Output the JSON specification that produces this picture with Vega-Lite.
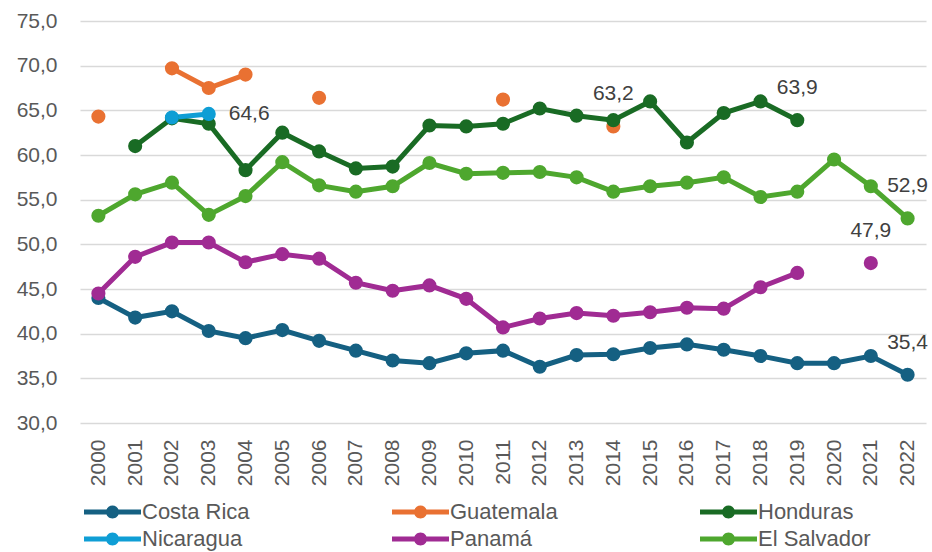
{
  "$schema": "https://vega.github.io/schema/vega-lite/v6.json",
  "width": 846,
  "height": 402,
  "autosize": {"type": "none"},
  "padding": {"left": 80, "top": 21, "right": 6, "bottom": 129},
  "config": {
    "locale": {"number": {"decimal": ",", "thousands": ".", "grouping": [3], "currency": ["", " €"]}},
    "view": {"stroke": null},
    "font": "Liberation Sans"
  },
  "data": {
    "values": [
      {"year": 2000, "country": "Costa Rica", "value": 44.0},
      {"year": 2001, "country": "Costa Rica", "value": 41.8},
      {"year": 2002, "country": "Costa Rica", "value": 42.5},
      {"year": 2003, "country": "Costa Rica", "value": 40.3},
      {"year": 2004, "country": "Costa Rica", "value": 39.5},
      {"year": 2005, "country": "Costa Rica", "value": 40.4},
      {"year": 2006, "country": "Costa Rica", "value": 39.2},
      {"year": 2007, "country": "Costa Rica", "value": 38.1},
      {"year": 2008, "country": "Costa Rica", "value": 37.0},
      {"year": 2009, "country": "Costa Rica", "value": 36.7},
      {"year": 2010, "country": "Costa Rica", "value": 37.8},
      {"year": 2011, "country": "Costa Rica", "value": 38.1},
      {"year": 2012, "country": "Costa Rica", "value": 36.3},
      {"year": 2013, "country": "Costa Rica", "value": 37.6},
      {"year": 2014, "country": "Costa Rica", "value": 37.7},
      {"year": 2015, "country": "Costa Rica", "value": 38.4},
      {"year": 2016, "country": "Costa Rica", "value": 38.8},
      {"year": 2017, "country": "Costa Rica", "value": 38.2},
      {"year": 2018, "country": "Costa Rica", "value": 37.5},
      {"year": 2019, "country": "Costa Rica", "value": 36.7},
      {"year": 2020, "country": "Costa Rica", "value": 36.7},
      {"year": 2021, "country": "Costa Rica", "value": 37.5},
      {"year": 2022, "country": "Costa Rica", "value": 35.4, "label": true},
      {"year": 2000, "country": "Guatemala", "value": 64.3},
      {"year": 2001, "country": "Guatemala", "value": null},
      {"year": 2002, "country": "Guatemala", "value": 69.7},
      {"year": 2003, "country": "Guatemala", "value": 67.5},
      {"year": 2004, "country": "Guatemala", "value": 69.0},
      {"year": 2005, "country": "Guatemala", "value": null},
      {"year": 2006, "country": "Guatemala", "value": 66.4},
      {"year": 2007, "country": "Guatemala", "value": null},
      {"year": 2011, "country": "Guatemala", "value": 66.2},
      {"year": 2012, "country": "Guatemala", "value": null},
      {"year": 2014, "country": "Guatemala", "value": 63.2, "label": true},
      {"year": 2001, "country": "Honduras", "value": 61.0},
      {"year": 2002, "country": "Honduras", "value": 64.1},
      {"year": 2003, "country": "Honduras", "value": 63.5},
      {"year": 2004, "country": "Honduras", "value": 58.3},
      {"year": 2005, "country": "Honduras", "value": 62.5},
      {"year": 2006, "country": "Honduras", "value": 60.4},
      {"year": 2007, "country": "Honduras", "value": 58.5},
      {"year": 2008, "country": "Honduras", "value": 58.7},
      {"year": 2009, "country": "Honduras", "value": 63.3},
      {"year": 2010, "country": "Honduras", "value": 63.2},
      {"year": 2011, "country": "Honduras", "value": 63.5},
      {"year": 2012, "country": "Honduras", "value": 65.2},
      {"year": 2013, "country": "Honduras", "value": 64.4},
      {"year": 2014, "country": "Honduras", "value": 63.9},
      {"year": 2015, "country": "Honduras", "value": 66.0},
      {"year": 2016, "country": "Honduras", "value": 61.4},
      {"year": 2017, "country": "Honduras", "value": 64.7},
      {"year": 2018, "country": "Honduras", "value": 66.0},
      {"year": 2019, "country": "Honduras", "value": 63.9, "label": true},
      {"year": 2002, "country": "Nicaragua", "value": 64.2},
      {"year": 2003, "country": "Nicaragua", "value": 64.6, "label": true},
      {"year": 2000, "country": "Panamá", "value": 44.5},
      {"year": 2001, "country": "Panamá", "value": 48.6},
      {"year": 2002, "country": "Panamá", "value": 50.2},
      {"year": 2003, "country": "Panamá", "value": 50.2},
      {"year": 2004, "country": "Panamá", "value": 48.0},
      {"year": 2005, "country": "Panamá", "value": 48.9},
      {"year": 2006, "country": "Panamá", "value": 48.4},
      {"year": 2007, "country": "Panamá", "value": 45.7},
      {"year": 2008, "country": "Panamá", "value": 44.8},
      {"year": 2009, "country": "Panamá", "value": 45.4},
      {"year": 2010, "country": "Panamá", "value": 43.9},
      {"year": 2011, "country": "Panamá", "value": 40.7},
      {"year": 2012, "country": "Panamá", "value": 41.7},
      {"year": 2013, "country": "Panamá", "value": 42.3},
      {"year": 2014, "country": "Panamá", "value": 42.0},
      {"year": 2015, "country": "Panamá", "value": 42.4},
      {"year": 2016, "country": "Panamá", "value": 42.9},
      {"year": 2017, "country": "Panamá", "value": 42.8},
      {"year": 2018, "country": "Panamá", "value": 45.2},
      {"year": 2019, "country": "Panamá", "value": 46.8},
      {"year": 2020, "country": "Panamá", "value": null},
      {"year": 2021, "country": "Panamá", "value": 47.9, "label": true},
      {"year": 2000, "country": "El Salvador", "value": 53.2},
      {"year": 2001, "country": "El Salvador", "value": 55.6},
      {"year": 2002, "country": "El Salvador", "value": 56.9},
      {"year": 2003, "country": "El Salvador", "value": 53.3},
      {"year": 2004, "country": "El Salvador", "value": 55.4},
      {"year": 2005, "country": "El Salvador", "value": 59.2},
      {"year": 2006, "country": "El Salvador", "value": 56.6},
      {"year": 2007, "country": "El Salvador", "value": 55.9},
      {"year": 2008, "country": "El Salvador", "value": 56.5},
      {"year": 2009, "country": "El Salvador", "value": 59.1},
      {"year": 2010, "country": "El Salvador", "value": 57.9},
      {"year": 2011, "country": "El Salvador", "value": 58.0},
      {"year": 2012, "country": "El Salvador", "value": 58.1},
      {"year": 2013, "country": "El Salvador", "value": 57.5},
      {"year": 2014, "country": "El Salvador", "value": 55.9},
      {"year": 2015, "country": "El Salvador", "value": 56.5},
      {"year": 2016, "country": "El Salvador", "value": 56.9},
      {"year": 2017, "country": "El Salvador", "value": 57.5},
      {"year": 2018, "country": "El Salvador", "value": 55.3},
      {"year": 2019, "country": "El Salvador", "value": 55.9},
      {"year": 2020, "country": "El Salvador", "value": 59.5},
      {"year": 2021, "country": "El Salvador", "value": 56.5},
      {"year": 2022, "country": "El Salvador", "value": 52.9, "label": true}
    ]
  },
  "encoding": {
    "x": {
      "field": "year",
      "type": "ordinal",
      "axis": {
        "title": null,
        "labelAngle": -90,
        "labelFontSize": 21,
        "labelColor": "#595959",
        "ticks": false,
        "tickSize": 0,
        "domain": false,
        "grid": false,
        "labelPadding": 16
      }
    },
    "y": {
      "field": "value",
      "type": "quantitative",
      "scale": {"domain": [30, 75], "nice": false, "zero": false},
      "axis": {
        "title": null,
        "values": [30, 35, 40, 45, 50, 55, 60, 65, 70, 75],
        "format": ".1f",
        "labelFontSize": 21,
        "labelColor": "#595959",
        "ticks": false,
        "tickSize": 0,
        "domain": false,
        "labelPadding": 23,
        "grid": true,
        "gridColor": "#d9d9d9",
        "gridWidth": 1.5
      }
    },
    "color": {
      "field": "country",
      "type": "nominal",
      "scale": {
        "domain": ["Costa Rica", "Guatemala", "Honduras", "Nicaragua", "Panamá", "El Salvador"],
        "range": ["#156082", "#E97132", "#196B24", "#0F9ED5", "#A02B93", "#4EA72E"]
      },
      "legend": {
        "title": null,
        "orient": "none",
        "legendX": 3,
        "legendY": 480,
        "direction": "horizontal",
        "columns": 3,
        "columnPadding": 141,
        "rowPadding": 5,
        "padding": 0,
        "labelFontSize": 22,
        "labelColor": "#595959",
        "labelFont": "Liberation Sans",
        "labelOffset": 37,
        "symbolType": "M-1,-0.25H4.7V0.25H-1Z M2.5,0A0.65,0.65 0 1,1 1.2,0A0.65,0.65 0 1,1 2.5,0Z",
        "symbolSize": 400,
        "symbolStrokeWidth": 0,
        "symbolOpacity": 1,
        "encode": {
          "symbols": {
            "update": {
              "fill": {"scale": "color", "field": "value"},
              "stroke": {"value": "transparent"},
              "strokeWidth": {"value": 0}
            }
          }
        }
      }
    }
  },
  "layer": [
    {
      "mark": {"type": "line", "strokeWidth": 5, "invalid": "break-paths-show-domains"}
    },
    {
      "mark": {"type": "point", "filled": true, "opacity": 1, "size": 200}
    },
    {
      "transform": [{"filter": "datum.label && datum.country != 'Nicaragua'"}],
      "mark": {"type": "text", "dy": -32, "fontSize": 21, "align": "center", "baseline": "middle"},
      "encoding": {
        "text": {"field": "value", "type": "quantitative", "format": ".1f"},
        "color": {"value": "#404040"}
      }
    },
    {
      "transform": [{"filter": "datum.label && datum.country == 'Nicaragua'"}],
      "mark": {"type": "text", "dx": 20, "fontSize": 21, "align": "left", "baseline": "middle"},
      "encoding": {
        "text": {"field": "value", "type": "quantitative", "format": ".1f"},
        "color": {"value": "#404040"}
      }
    }
  ]
}
